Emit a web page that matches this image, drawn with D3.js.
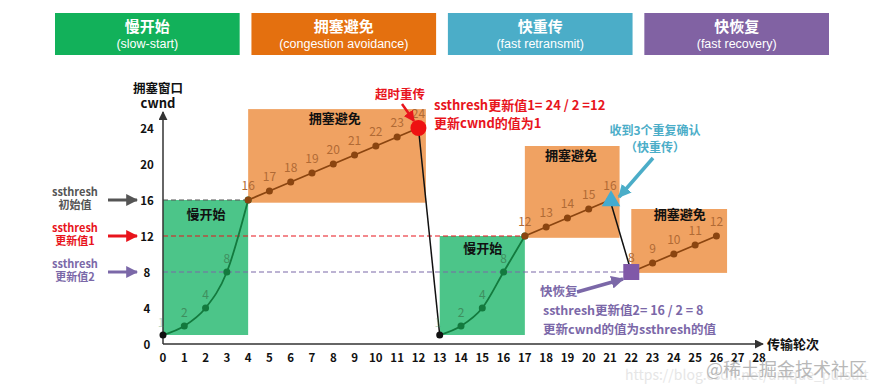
<!DOCTYPE html>
<html>
<head>
<meta charset="utf-8">
<script src="https://cdn.jsdelivr.net/npm/d3@7"></script>
<style>
  body { margin: 0; background: #fff; }
  svg { display: block; font-family: "Noto Sans CJK SC", "Liberation Sans", sans-serif; }
</style>
</head>
<body>
<div id="chart"></div>
<script>
// phases shown in the banner row
const phaseNames = ["慢开始", "拥塞避免", "快重传", "快恢复"];
const phaseEnglish = ["(slow-start)", "(congestion avoidance)", "(fast retransmit)", "(fast recovery)"];
const phaseColors = ["#12b15a", "#e4700f", "#4badc8", "#8162a3"];

// cwnd series (transmission round -> cwnd)
const ss1Rounds = [0, 1, 2, 3, 4];
const ss1Cwnd = [1, 2, 4, 8, 16];
const ca1Rounds = [4, 5, 6, 7, 8, 9, 10, 11, 12];
const ca1Cwnd = [16, 17, 18, 19, 20, 21, 22, 23, 24];
const ss2Rounds = [13, 14, 15, 16, 17];
const ss2Cwnd = [1, 2, 4, 8, 12];
const ca2Rounds = [17, 18, 19, 20, 21];
const ca2Cwnd = [12, 13, 14, 15, 16];
const ca3Rounds = [22, 23, 24, 25, 26];
const ca3Cwnd = [8, 9, 10, 11, 12];

// shaded regions: [x0, x1, y0, y1] in data units
const ssRegions = [[0, 4, 1, 16], [13, 17, 1, 12]];
const caRegions = [[4, 12.35, 15.7, 26.1], [17, 21.45, 11.8, 22], [22, 26.5, 7.9, 15]];

const xTicks = d3.range(0, 29);
const yTicks = [0, 4, 8, 12, 16, 20, 24];

// ssthresh levels and where their dashed lines stop
const ssthreshValues = [16, 12, 8];
const ssthreshEnds = [4, 17, 22];
const ssthreshNames = ["初始值", "更新值1", "更新值2"];
const ssthreshColors = ["#555555", "#e8141c", "#7b68a8"];

const W = 882, H = 390;
const svg = d3.select("#chart").append("svg").attr("width", W).attr("height", H);

const defs = svg.append("defs");
function marker(id, color, size) {
  defs.append("marker").attr("id", id)
    .attr("viewBox", "0 0 10 10").attr("refX", 9).attr("refY", 5)
    .attr("markerWidth", size).attr("markerHeight", size)
    .attr("markerUnits", "userSpaceOnUse")
    .attr("orient", "auto")
    .append("path").attr("d", "M0,0 L10,5 L0,10 z").attr("fill", color);
}
marker("axisArrow", "#333", 9);
ssthreshColors.forEach((c, i) => marker("thr" + i, c, 12));
marker("redArrow", "#e8141c", 11);
marker("blueArrow", "#4badc8", 13);
marker("purpleArrow", "#7b68a8", 13);

// banners
const bx = d3.scaleBand().domain(phaseNames).range([55, 829]).paddingInner(0.06);
const banner = svg.append("g").selectAll("g").data(phaseNames).join("g")
  .attr("transform", d => `translate(${bx(d)},13)`);
banner.append("rect").attr("width", bx.bandwidth()).attr("height", 42)
  .attr("fill", (d, i) => phaseColors[i]);
banner.append("text").attr("x", bx.bandwidth() / 2).attr("y", 19)
  .attr("text-anchor", "middle").attr("fill", "#fff").attr("font-size", 15).attr("font-weight", "bold")
  .text(d => d);
banner.append("text").attr("x", bx.bandwidth() / 2).attr("y", 35)
  .attr("text-anchor", "middle").attr("fill", "#fff").attr("font-size", 12.5)
  .attr("font-family", "Liberation Sans Narrow, Liberation Sans, sans-serif")
  .text((d, i) => phaseEnglish[i]);

const x = d3.scaleLinear().domain([0, 28]).range([163, 759]);
const y = d3.scaleLinear().domain([0, 24]).range([344, 128]);

// regions
const regions = svg.append("g");
regions.selectAll("rect.ss").data(ssRegions).join("rect").attr("class", "ss")
  .attr("x", d => x(d[0])).attr("width", d => x(d[1]) - x(d[0]))
  .attr("y", d => y(d[3])).attr("height", d => y(d[2]) - y(d[3]))
  .attr("fill", "#4cc589");
regions.selectAll("rect.ca").data(caRegions).join("rect").attr("class", "ca")
  .attr("x", d => x(d[0])).attr("width", d => x(d[1]) - x(d[0]))
  .attr("y", d => y(d[3])).attr("height", d => y(d[2]) - y(d[3]))
  .attr("fill", "#f0a262");

// region titles
const ssTitlePos = [[1.1, 13.9], [14.1, 10.1]];
const caTitlePos = [[6.85, 24.6], [17.95, 20.4], [23.05, 13.9]];
regions.selectAll("text.sst").data(ssTitlePos).join("text").attr("class", "sst")
  .attr("x", d => x(d[0])).attr("y", d => y(d[1]))
  .attr("font-size", 13).attr("font-weight", "bold").attr("fill", "#111").text("慢开始");
regions.selectAll("text.cat").data(caTitlePos).join("text").attr("class", "cat")
  .attr("x", d => x(d[0])).attr("y", d => y(d[1]))
  .attr("font-size", 13).attr("font-weight", "bold").attr("fill", "#111").text("拥塞避免");

// ssthresh dashed lines
svg.append("g").selectAll("line").data(ssthreshValues).join("line")
  .attr("x1", x(0)).attr("x2", (d, i) => x(ssthreshEnds[i]))
  .attr("y1", d => y(d)).attr("y2", d => y(d))
  .attr("stroke", (d, i) => ssthreshColors[i]).attr("stroke-width", 1.2)
  .attr("stroke-dasharray", "5,3");

// ssthresh side labels with arrows
const side = svg.append("g").selectAll("g").data(ssthreshValues).join("g")
  .attr("transform", d => `translate(0,${y(d)})`);
side.append("text").attr("x", 75).attr("y", -4).attr("text-anchor", "middle")
  .attr("font-size", 11).attr("font-weight", "bold").attr("fill", (d, i) => ssthreshColors[i]).text("ssthresh");
side.append("text").attr("x", 75).attr("y", 9).attr("text-anchor", "middle")
  .attr("font-size", 11).attr("font-weight", "bold").attr("fill", (d, i) => ssthreshColors[i])
  .text((d, i) => ssthreshNames[i]);
side.append("line").attr("x1", 108).attr("x2", 137).attr("y1", 0).attr("y2", 0)
  .attr("stroke", (d, i) => ssthreshColors[i]).attr("stroke-width", 3)
  .attr("marker-end", (d, i) => `url(#thr${i})`);

// axes
svg.append("line").attr("x1", x(0)).attr("x2", 763).attr("y1", y(0)).attr("y2", y(0))
  .attr("stroke", "#333").attr("stroke-width", 1.5).attr("marker-end", "url(#axisArrow)");
svg.append("line").attr("x1", x(0)).attr("x2", x(0)).attr("y1", y(0)).attr("y2", 112)
  .attr("stroke", "#333").attr("stroke-width", 1.5).attr("marker-end", "url(#axisArrow)");

svg.append("g").selectAll("text").data(xTicks).join("text")
  .attr("x", d => x(d)).attr("y", 362).attr("text-anchor", "middle")
  .attr("font-size", 11.5).attr("font-weight", "bold").attr("fill", "#111").text(d => d);
svg.append("g").selectAll("text").data(yTicks).join("text")
  .attr("x", 147).attr("y", d => y(d) + 4.5).attr("text-anchor", "middle")
  .attr("font-size", 11.5).attr("font-weight", "bold").attr("fill", "#111").text(d => d);

svg.append("text").attr("x", 158).attr("y", 93).attr("text-anchor", "middle")
  .attr("font-size", 12.5).attr("font-weight", "bold").attr("fill", "#111").text("拥塞窗口");
svg.append("text").attr("x", 158).attr("y", 108).attr("text-anchor", "middle")
  .attr("font-size", 13).attr("font-weight", "bold").attr("fill", "#111").text("cwnd");
svg.append("text").attr("x", 767).attr("y", 349)
  .attr("font-size", 13).attr("font-weight", "bold").attr("fill", "#111").text("传输轮次");

// series
const ssLine = d3.line().x(d => x(d[0])).y(d => y(d[1])).curve(d3.curveMonotoneX);
const caLine = d3.line().x(d => x(d[0])).y(d => y(d[1]));
const zip = (a, b) => a.map((v, i) => [v, b[i]]);

const ss1 = zip(ss1Rounds, ss1Cwnd), ss2 = zip(ss2Rounds, ss2Cwnd);
const ca1 = zip(ca1Rounds, ca1Cwnd), ca2 = zip(ca2Rounds, ca2Cwnd), ca3 = zip(ca3Rounds, ca3Cwnd);

const timeoutPt = ca1[ca1.length - 1];
const dupAckPt = ca2[ca2.length - 1];
const recoveryPt = ca3[0];

const lines = svg.append("g");
// drops (timeout and fast retransmit)
lines.append("path").attr("d", caLine([timeoutPt, ss2[0]]))
  .attr("stroke", "#111").attr("stroke-width", 1.5).attr("fill", "none");
lines.append("path").attr("d", caLine([dupAckPt, recoveryPt]))
  .attr("stroke", "#111").attr("stroke-width", 1.5).attr("fill", "none");

const labels = svg.append("g");

[ss1, ss2].forEach(s => {
  lines.append("path").attr("d", ssLine(s)).attr("stroke", "#137a3e").attr("stroke-width", 1.8).attr("fill", "none");
  lines.append("g").selectAll("circle").data(s.slice(1)).join("circle")
    .attr("cx", d => x(d[0])).attr("cy", d => y(d[1])).attr("r", 3.5).attr("fill", "#137a3e");
  labels.append("g").selectAll("text").data(s.slice(0, -1)).join("text")
    .attr("x", d => x(d[0]) + (d[1] === 1 ? -2 : 0)).attr("y", d => y(d[1]) - (d[1] === 1 ? 8 : 9))
    .attr("text-anchor", "middle").attr("font-size", 12).attr("fill", "#3f8f5f")
    .attr("opacity", d => d[1] === 1 ? 0.35 : 1)
    .text(d => d[1]);
  lines.append("circle").attr("cx", x(s[0][0])).attr("cy", y(s[0][1])).attr("r", 3.5).attr("fill", "#111");
});

[ca1, ca2, ca3].forEach(s => {
  lines.append("path").attr("d", caLine(s)).attr("stroke", "#8b4510").attr("stroke-width", 1.8).attr("fill", "none");
  lines.append("g").selectAll("circle").data(s).join("circle")
    .attr("cx", d => x(d[0])).attr("cy", d => y(d[1])).attr("r", 3.5).attr("fill", "#8b4510");
  labels.append("g").selectAll("text").data(s).join("text")
    .attr("x", d => x(d[0])).attr("y", d => y(d[1]) - 10)
    .attr("text-anchor", "middle").attr("font-size", 12).attr("fill", "#b06a35")
    .text(d => d[1]);
});

// event markers (drawn under the value labels)
lines.append("circle").attr("cx", x(timeoutPt[0])).attr("cy", y(timeoutPt[1])).attr("r", 8).attr("fill", "#ee1111");
lines.append("path").attr("d", d3.symbol(d3.symbolTriangle, 150)())
  .attr("transform", `translate(${x(dupAckPt[0]) + 1},${y(dupAckPt[1]) + 1})`).attr("fill", "#43abd0");
lines.append("rect").attr("x", x(recoveryPt[0]) - 8).attr("y", y(recoveryPt[1]) - 8)
  .attr("width", 16).attr("height", 16).attr("fill", "#8058a8");

// annotations
svg.append("text").attr("x", 400).attr("y", 99).attr("text-anchor", "middle")
  .attr("font-size", 12.5).attr("font-weight", "bold").attr("fill", "#e8141c").text("超时重传");
svg.append("line").attr("x1", 402).attr("y1", 104).attr("x2", 414).attr("y2", 121)
  .attr("stroke", "#e8141c").attr("stroke-width", 2.5).attr("marker-end", "url(#redArrow)");
svg.append("text").attr("x", 434).attr("y", 110)
  .attr("font-size", 13).attr("font-weight", "bold").attr("fill", "#e8141c").text("ssthresh更新值1= 24 / 2 =12");
svg.append("text").attr("x", 434).attr("y", 128)
  .attr("font-size", 13).attr("font-weight", "bold").attr("fill", "#e8141c").text("更新cwnd的值为1");

svg.append("text").attr("x", 655).attr("y", 135).attr("text-anchor", "middle")
  .attr("font-size", 12).attr("font-weight", "bold").attr("fill", "#4badc8").text("收到3个重复确认");
svg.append("text").attr("x", 655).attr("y", 152).attr("text-anchor", "middle")
  .attr("font-size", 12).attr("font-weight", "bold").attr("fill", "#4badc8").text("（快重传）");
svg.append("line").attr("x1", 653).attr("y1", 158).attr("x2", 619).attr("y2", 197)
  .attr("stroke", "#4badc8").attr("stroke-width", 3.5).attr("marker-end", "url(#blueArrow)");

svg.append("text").attr("x", 540).attr("y", 296)
  .attr("font-size", 12.5).attr("font-weight", "bold").attr("fill", "#7b68a8").text("快恢复");
svg.append("line").attr("x1", 577).attr("y1", 292).attr("x2", 623).attr("y2", 279)
  .attr("stroke", "#7b68a8").attr("stroke-width", 3.5).attr("marker-end", "url(#purpleArrow)");
svg.append("text").attr("x", 543).attr("y", 315)
  .attr("font-size", 12.5).attr("font-weight", "bold").attr("fill", "#7b68a8").text("ssthresh更新值2= 16 / 2 = 8");
svg.append("text").attr("x", 543).attr("y", 334)
  .attr("font-size", 12.5).attr("font-weight", "bold").attr("fill", "#7b68a8").text("更新cwnd的值为ssthresh的值");

// watermark
svg.append("text").attr("x", 625).attr("y", 380)
  .attr("font-size", 14).attr("fill", "#e6e6e6").text("https://blog.csdn.net/unique_pursuit");
svg.append("text").attr("x", 706).attr("y", 376)
  .attr("font-size", 18).attr("fill", "#b8b8b8").text("@稀土掘金技术社区");
</script>
</body>
</html>
